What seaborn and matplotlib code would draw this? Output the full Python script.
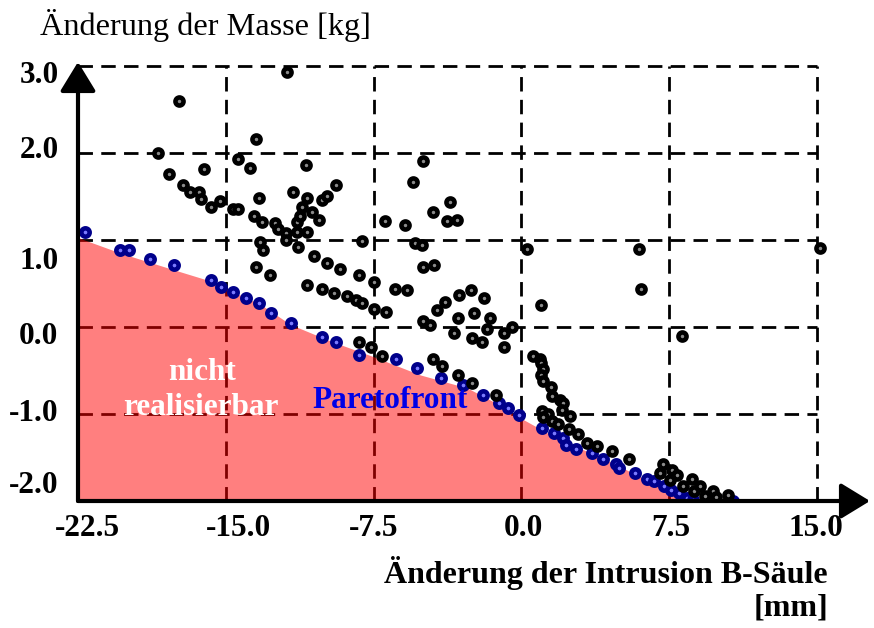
import matplotlib
matplotlib.use("Agg")
import matplotlib.pyplot as plt
import seaborn as sns
import pandas as pd

# Datenpunkte (Intrusion B-Säule [mm], Masse [kg])
design_x = [-17.38, -18.45, -17.89, -17.18, -16.83, -16.37, -16.27, -16.12, -15.76, -15.31,
            -14.65, -14.39, -14.39, -13.79, -13.48, -13.33, -13.58, -13.18, -12.52, -12.37,
            -11.96, -11.96, -11.61, -11.40, -11.40, -10.90, -11.35, -13.28, -13.13, -13.48,
            -12.77, -11.91, -10.95, -10.90, -11.15, -11.25, -10.64, -10.29, -10.09, -9.88,
            -9.38, -10.54, -9.88, -9.22, -10.90, -10.09, -9.53, -8.11, -8.26, -7.50,
            -8.87, -8.41, -8.06, -7.50, -6.89, -6.94, -5.88, -5.52, -4.97, -4.46,
            -3.60, -3.75, -3.24, -5.42, -5.02, -4.97, -4.41, 0.30, -6.39, -5.78,
            -2.53, -3.14, -1.88, -3.85, -4.26, -3.19, -2.38, -1.57, -4.97, -4.61,
            -1.72, -0.46, -0.86, -3.40, -2.48, -1.98, -0.86, -8.26, -7.65, -7.05,
            -4.46, -4.00, -3.19, -2.48, -1.27, 1.01, 0.61, 0.96, 1.01, 1.12,
            1.01, 1.12, 1.52, 1.57, 1.98, 2.13, 2.08, 2.48, 1.06, 1.37,
            1.12, 1.57, 1.88, 2.43, 2.89, 3.35, 3.85, 4.61, 5.47, 6.08,
            8.16, 5.98, 15.15, 7.20, 7.05, 7.65, 7.91, 7.55, 8.21, 8.67,
            8.77, 9.07, 9.33, 9.73, 9.88, 10.49]
design_y = [2.60, 2.00, 1.76, 1.64, 1.56, 1.55, 1.47, 1.82, 1.38, 1.45,
            1.36, 1.36, 1.93, 1.83, 2.16, 1.48, 1.28, 1.21, 1.20, 1.13,
            1.08, 1.00, 1.55, 1.21, 1.09, 1.09, 0.92, 0.98, 0.89, 0.69,
            0.60, 2.93, 1.87, 1.49, 1.38, 1.28, 1.33, 1.23, 1.46, 1.51,
            1.64, 0.82, 0.74, 0.67, 0.48, 0.44, 0.39, 0.99, 0.60, 0.52,
            0.36, 0.31, 0.28, 0.21, 0.17, 1.22, 1.18, 1.67, 1.91, 1.33,
            1.44, 1.22, 1.23, 0.97, 0.94, 0.69, 0.72, 0.90, 0.44, 0.43,
            0.43, 0.37, 0.34, 0.29, 0.20, 0.11, 0.16, 0.10, 0.07, 0.03,
            -0.02, 0.00, -0.07, -0.07, -0.13, -0.17, -0.23, -0.17, -0.23, -0.33,
            -0.37, -0.45, -0.55, -0.64, -0.78, 0.25, -0.33, -0.37, -0.41, -0.48,
            -0.55, -0.62, -0.69, -0.79, -0.84, -0.87, -0.95, -1.02, -0.97, -1.00,
            -1.03, -1.08, -1.11, -1.17, -1.23, -1.33, -1.37, -1.43, -1.52, 0.44,
            -0.10, 0.90, 0.91, -1.57, -1.68, -1.64, -1.70, -1.76, -1.83, -1.75,
            -1.89, -1.83, -1.94, -1.89, -1.95, -1.93]

pareto_x = [-22.15, -20.37, -19.92, -18.85, -17.64, -15.76, -15.26, -14.65, -13.99, -13.33,
            -12.72, -11.71, -10.14, -9.38, -8.26, -6.34, -5.27, -4.05, -2.94, -1.93,
            -1.12, -0.66, -0.10, 1.06, 1.67, 2.13, 2.28, 2.79, 3.60, 4.16,
            4.81, 4.97, 5.78, 6.39, 6.74, 7.25, 7.60, 8.01, 8.41, 8.72, 10.74]
pareto_y = [1.09, 0.89, 0.89, 0.78, 0.71, 0.54, 0.46, 0.40, 0.34, 0.28,
            0.16, 0.05, -0.11, -0.17, -0.32, -0.37, -0.47, -0.59, -0.66, -0.78,
            -0.87, -0.93, -1.01, -1.16, -1.22, -1.28, -1.36, -1.40, -1.45, -1.52,
            -1.57, -1.62, -1.68, -1.75, -1.77, -1.83, -1.87, -1.91, -1.97, -1.99, -2.00]

# Grenze des nicht realisierbaren Bereichs
region_x = [-22.5, -20.32, -17.64, -15.91, -13.23, -11.71, -9.68, -7.50, -5.12, -2.74,
            -1.06, 0.0, 1.98, 4.00, 6.03, 7.55, 8.72]
region_y = [1.03, 0.85, 0.66, 0.54, 0.26, 0.03, -0.16, -0.34, -0.55, -0.70,
            -0.90, -1.05, -1.30, -1.49, -1.72, -1.91, -2.0]

x_grid = [-15.0, -7.5, 0.0, 7.5, 15.0]
y_grid = [3.0, 2.0, 1.0, 0.0, -1.0]
x_ticklabels = ["-22.5", "-15.0", "-7.5", "0.0", "7.5", "15.0"]
y_ticklabels = ["3.0", "2.0", "1.0", "0.0", "-1.0", "-2.0"]

# Lage der Beschriftungen (wie im Original leicht versetzt)
x_label_pos = [-22.0, -14.35, -7.5, 0.1, 7.6, 14.95]
y_label_pos = [2.93, 2.07, 0.79, -0.07, -0.95, -1.78]

sns.set_style("white")
plt.rcParams["font.family"] = ["Liberation Serif", "DejaVu Serif"]
plt.rcParams["text.color"] = "black"
plt.rcParams["xtick.color"] = "black"
plt.rcParams["ytick.color"] = "black"

fig = plt.figure(figsize=(8.74, 6.28), dpi=100)
ax = fig.add_axes([78 / 874, 1 - 501 / 628, (870 - 78) / 874, (501 - 62) / 628])
ax.set_xlim(-22.5, 17.7)
ax.set_ylim(-2.0, 3.05)

dash = (0, (5.2, 3.0))
ax.vlines(x_grid, -2.0, 3.0, colors="black", linewidth=2.0, linestyles=[dash], zorder=1)
ax.hlines(y_grid, -22.5, 15.0, colors="black", linewidth=2.0, linestyles=[dash], zorder=1)

region = pd.DataFrame({"x": region_x, "y": region_y})
ax.fill_between(region["x"], -2.0, region["y"], color="red", alpha=0.5, linewidth=0, zorder=2)

designs = pd.DataFrame({"x": design_x, "y": design_y})
front = pd.DataFrame({"x": pareto_x, "y": pareto_y})
sns.scatterplot(data=front, x="x", y="y", ax=ax, marker="o", s=36, color="#7b7bff",
                edgecolor="#00008b", linewidth=3.3, zorder=3)
sns.scatterplot(data=designs, x="x", y="y", ax=ax, marker="o", s=34, color="#8a8a8a",
                edgecolor="black", linewidth=3.3, zorder=4)

# Achsen als Pfeile
for sp in ax.spines.values():
    sp.set_visible(False)
arrow = dict(arrowstyle="-|>,head_length=0.9,head_width=0.55", color="black",
             lw=3.0, mutation_scale=20, shrinkA=0, shrinkB=0)
ax.annotate("", xy=(17.7, -2.0), xytext=(-22.5, -2.0), arrowprops=arrow,
            annotation_clip=False, zorder=6)
ax.annotate("", xy=(-22.5, 3.05), xytext=(-22.5, -2.0), arrowprops=arrow,
            annotation_clip=False, zorder=6)

ax.set_xticks(x_label_pos, x_ticklabels)
ax.set_yticks(y_label_pos, y_ticklabels)
ax.tick_params(axis="both", length=0, labelsize=22.5)
ax.tick_params(axis="x", pad=9)
ax.tick_params(axis="y", pad=14)
for lab in ax.get_xticklabels() + ax.get_yticklabels():
    lab.set_fontweight("bold")
ax.set_xlabel("")
ax.set_ylabel("")

ax.text(-16.2, -0.52, "nicht", color="white", fontsize=22.5, fontweight="bold",
        ha="center", va="center", zorder=7)
ax.text(-16.25, -0.93, "realisierbar", color="white", fontsize=22.5, fontweight="bold",
        ha="center", va="center", zorder=7)
ax.text(-6.65, -0.84, "Paretofront", color="#0000e6", fontsize=22.5, fontweight="bold",
        ha="center", va="center", zorder=7)

fig.text(40 / 874, 1 - 25 / 628, "Änderung der Masse [kg]", fontsize=23.2,
         ha="left", va="center")
fig.text(828 / 874, 1 - 573 / 628, "Änderung der Intrusion B-Säule", fontsize=23,
         fontweight="bold", ha="right", va="center")
fig.text(828 / 874, 1 - 608 / 628, "[mm]", fontsize=23, fontweight="bold",
         ha="right", va="center")

fig.savefig("out.png", dpi=100, facecolor="white")
